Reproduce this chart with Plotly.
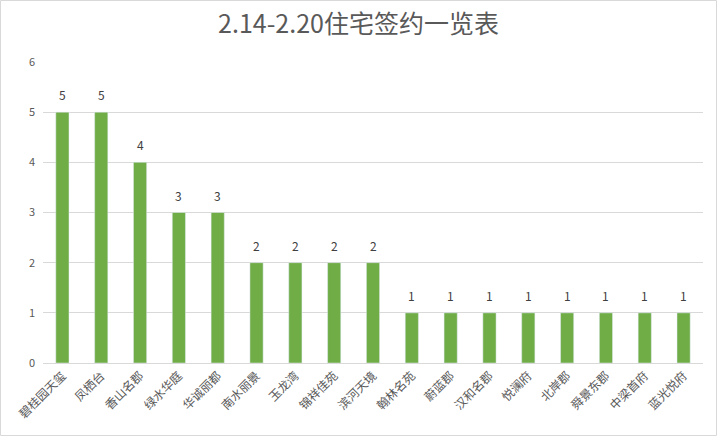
import plotly.graph_objects as go

# 楼盘名称与签约套数
projects = ["碧桂园天玺", "凤栖台", "香山名郡", "绿水华庭", "华诚丽都", "南水丽景",
            "玉龙湾", "锦祥佳苑", "滨河天境", "翰林名苑", "蔚蓝郡", "汉和名郡",
            "悦澜府", "北岸郡", "舜景东郡", "中梁首府", "蓝光悦府"]
signed = [5, 5, 4, 3, 3, 2, 2, 2, 2, 1, 1, 1, 1, 1, 1, 1, 1]

font_cn = "Microsoft YaHei, Noto Sans CJK SC, sans-serif"

fig = go.Figure()
fig.add_trace(go.Bar(
    x=projects, y=signed,
    marker_color="#70ad47",
    width=0.34,
))

# 数据标签
for name, v in zip(projects, signed):
    fig.add_annotation(x=name, y=v, text=str(v), showarrow=False,
                       yanchor="bottom", yshift=7,
                       font=dict(size=12, color="#404040"))

fig.update_layout(
    width=717, height=436,
    paper_bgcolor="white", plot_bgcolor="white",
    margin=dict(l=43, r=14, t=62, b=73),
    title=dict(text="2.14-2.20住宅签约一览表", x=0.5, xanchor="center",
               y=0.965, yanchor="top",
               font=dict(family=font_cn, size=25, color="#595959")),
    font=dict(family=font_cn, color="#595959"),
    showlegend=False,
    bargap=0.6,
    xaxis=dict(tickangle=-45, tickfont=dict(size=12, color="#595959"),
               showline=True, linecolor="#d9d9d9", linewidth=1,
               ticks="", showgrid=False),
    yaxis=dict(range=[0, 6], dtick=1, tickfont=dict(size=11, color="#595959"),
               showgrid=True, gridcolor="#d9d9d9", zeroline=False,
               ticks="", ticklabelstandoff=7),
    shapes=[dict(type="rect", xref="paper", yref="paper",
                 x0=-42.5/660, x1=1 + 13.5/660, y0=-72.5/301, y1=1 + 61.5/301,
                 line=dict(color="#d9d9d9", width=1))],
)

fig.write_html("out.html", config={"displayModeBar": False},
               post_script="document.body.style.margin='0';")
